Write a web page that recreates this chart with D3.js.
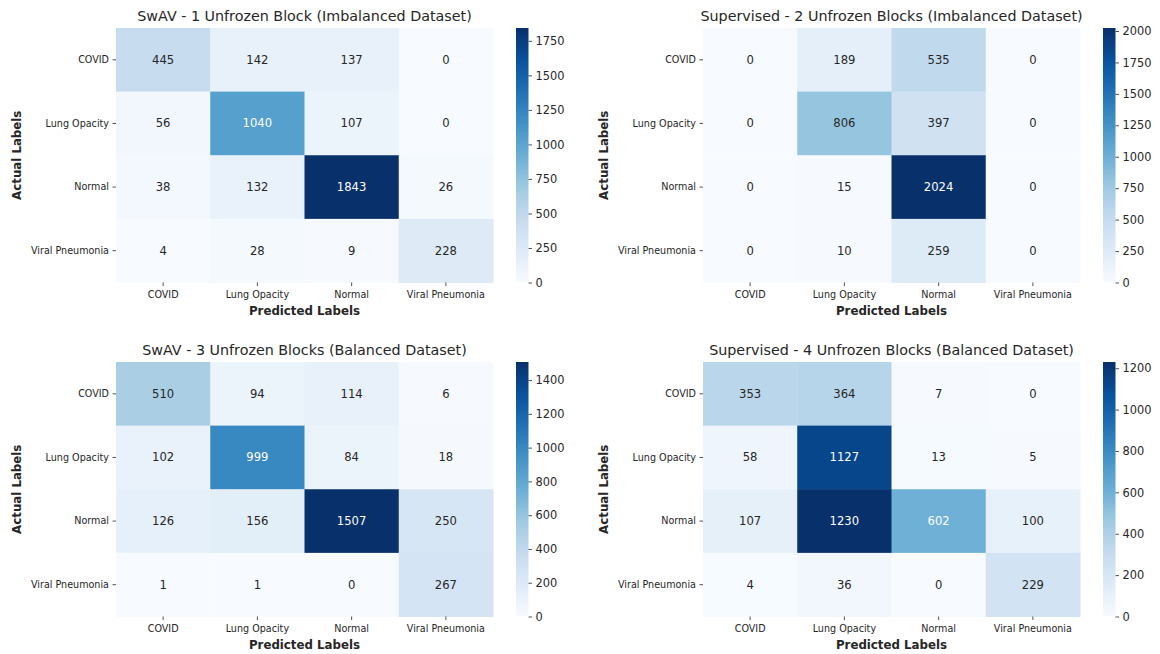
<!DOCTYPE html>
<html>
<head>
<meta charset="utf-8">
<script src="https://cdn.jsdelivr.net/npm/d3@7"></script>
<style>
  html, body { margin: 0; padding: 0; background: #fff; }
  svg { display: block; font-family: "DejaVu Sans", sans-serif; }
</style>
</head>
<body>
<svg id="chart" width="1160" height="654"></svg>
<script>
// Class labels shared by every confusion matrix
const categories = ["COVID", "Lung Opacity", "Normal", "Viral Pneumonia"];

// Confusion matrices (rows = actual, columns = predicted)
const swav1Imbalanced = [
  [445, 142, 137, 0],
  [56, 1040, 107, 0],
  [38, 132, 1843, 26],
  [4, 28, 9, 228]
];
const supervised2Imbalanced = [
  [0, 189, 535, 0],
  [0, 806, 397, 0],
  [0, 15, 2024, 0],
  [0, 10, 259, 0]
];
const swav3Balanced = [
  [510, 94, 114, 6],
  [102, 999, 84, 18],
  [126, 156, 1507, 250],
  [1, 1, 0, 267]
];
const supervised4Balanced = [
  [353, 364, 7, 0],
  [58, 1127, 13, 5],
  [107, 1230, 602, 100],
  [4, 36, 0, 229]
];

const panelTitles = [
  "SwAV - 1 Unfrozen Block (Imbalanced Dataset)",
  "Supervised - 2 Unfrozen Blocks (Imbalanced Dataset)",
  "SwAV - 3 Unfrozen Blocks (Balanced Dataset)",
  "Supervised - 4 Unfrozen Blocks (Balanced Dataset)"
];

// Colour bar tick values
const colorbarTicks1 = [0, 250, 500, 750, 1000, 1250, 1500, 1750];
const colorbarTicks2 = [0, 250, 500, 750, 1000, 1250, 1500, 1750, 2000];
const colorbarTicks3 = [0, 200, 400, 600, 800, 1000, 1200, 1400];
const colorbarTicks4 = [0, 200, 400, 600, 800, 1000, 1200];

const xAxisLabel = "Predicted Labels";
const yAxisLabel = "Actual Labels";

// "Blues" ramp, linearly interpolated between its nine anchor colours
const bluesAnchors = ["#f7fbff", "#deebf7", "#c6dbef", "#9ecae1", "#6baed6",
                      "#4292c6", "#2171b5", "#08519c", "#08306b"];

const panels = [
  { data: swav1Imbalanced,       ticks: colorbarTicks1, x0: 116, y0: 28 },
  { data: supervised2Imbalanced, ticks: colorbarTicks2, x0: 703, y0: 28 },
  { data: swav3Balanced,         ticks: colorbarTicks3, x0: 116, y0: 362 },
  { data: supervised4Balanced,   ticks: colorbarTicks4, x0: 703, y0: 362 }
];

const W = 377, H = 254.5;
const textColor = "#262626";
const svg = d3.select("#chart");
const defs = svg.append("defs");

function relLuminance(c) {
  const rgb = d3.rgb(c);
  const f = v => { v /= 255; return v <= 0.03928 ? v / 12.92 : Math.pow((v + 0.055) / 1.055, 2.4); };
  return 0.2126 * f(rgb.r) + 0.7152 * f(rgb.g) + 0.0722 * f(rgb.b);
}

panels.forEach((p, i) => {
  const flat = p.data.flat();
  const vmin = d3.min(flat), vmax = d3.max(flat);
  const color = d3.scaleLinear()
    .domain(bluesAnchors.map((_, k) => vmin + (vmax - vmin) * k / (bluesAnchors.length - 1)))
    .range(bluesAnchors)
    .interpolate(d3.interpolateRgb);

  const g = svg.append("g").attr("transform", `translate(${p.x0},${p.y0})`);

  const x = d3.scaleBand().domain(categories).range([0, W]);
  const y = d3.scaleBand().domain(categories).range([0, H]);

  const cells = [];
  p.data.forEach((row, r) => row.forEach((v, c) => cells.push({ r, c, v })));

  g.selectAll("rect.cell").data(cells).join("rect")
    .attr("class", "cell")
    .attr("x", d => x(categories[d.c]))
    .attr("y", d => y(categories[d.r]))
    .attr("width", x.bandwidth() + 0.5)
    .attr("height", y.bandwidth() + 0.5)
    .attr("fill", d => color(d.v));

  g.selectAll("text.annot").data(cells).join("text")
    .attr("class", "annot")
    .attr("x", d => x(categories[d.c]) + x.bandwidth() / 2)
    .attr("y", d => y(categories[d.r]) + y.bandwidth() / 2)
    .attr("text-anchor", "middle")
    .attr("dominant-baseline", "central")
    .attr("font-size", 11.6)
    .attr("fill", d => relLuminance(color(d.v)) > 0.408 ? textColor : "#ffffff")
    .text(d => d.v);

  // Category axes
  const xAxis = g.append("g").attr("transform", `translate(0,${H})`)
    .call(d3.axisBottom(x).tickSize(3.5).tickPadding(5.5));
  const yAxis = g.append("g")
    .call(d3.axisLeft(y).tickSize(3.5).tickPadding(3.5));
  [xAxis, yAxis].forEach(a => {
    a.select(".domain").remove();
    a.selectAll(".tick line").attr("stroke", textColor).attr("stroke-width", 0.8);
    a.selectAll(".tick text").attr("fill", textColor)
      .attr("font-size", 9.6).attr("font-family", "DejaVu Sans");
  });

  // Title and axis titles
  g.append("text")
    .attr("x", W / 2).attr("y", -7)
    .attr("text-anchor", "middle")
    .attr("font-size", 14.3)
    .attr("fill", textColor)
    .text(panelTitles[i]);

  g.append("text")
    .attr("x", W / 2).attr("y", H + 32)
    .attr("text-anchor", "middle")
    .attr("font-size", 11.8).attr("font-weight", "bold")
    .attr("fill", textColor)
    .text(xAxisLabel);

  g.append("text")
    .attr("transform", `translate(-99,${H / 2}) rotate(-90)`)
    .attr("text-anchor", "middle")
    .attr("dominant-baseline", "central")
    .attr("font-size", 11.8).attr("font-weight", "bold")
    .attr("fill", textColor)
    .text(yAxisLabel);

  // Colour bar
  const cbX = W + 23, cbW = 12.5;
  const gradId = `blues-grad-${i}`;
  const grad = defs.append("linearGradient").attr("id", gradId)
    .attr("x1", 0).attr("y1", 1).attr("x2", 0).attr("y2", 0);
  d3.range(0, 1.0001, 0.02).forEach(t => {
    grad.append("stop").attr("offset", t).attr("stop-color", color(vmin + t * (vmax - vmin)));
  });
  const cb = g.append("g").attr("transform", `translate(${cbX},0)`);
  cb.append("rect").attr("width", cbW).attr("height", H).attr("fill", `url(#${gradId})`);
  const cbScale = d3.scaleLinear().domain([vmin, vmax]).range([H, 0]);
  const cbAxis = cb.append("g").attr("transform", `translate(${cbW},0)`)
    .call(d3.axisRight(cbScale).tickValues(p.ticks).tickSize(3.5).tickPadding(3.5).tickFormat(d3.format("d")));
  cbAxis.select(".domain").remove();
  cbAxis.selectAll(".tick line").attr("stroke", textColor).attr("stroke-width", 0.8);
  cbAxis.selectAll(".tick text").attr("fill", textColor)
    .attr("font-size", 11.4).attr("font-family", "DejaVu Sans");
});
</script>
</body>
</html>
